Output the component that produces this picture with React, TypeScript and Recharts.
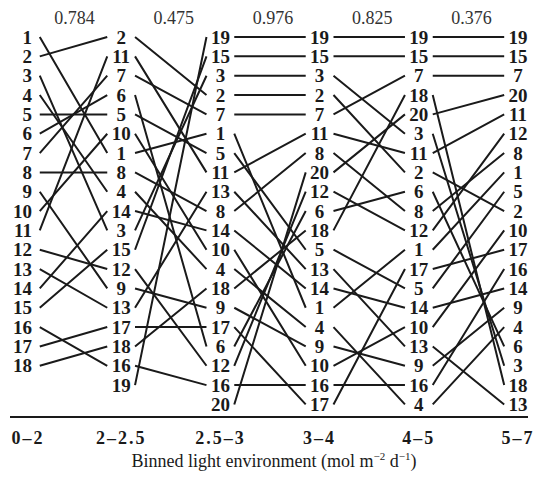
import React from 'react';
import { ComposedChart, Line, Scatter, XAxis, YAxis } from 'recharts';

const bins = ['0–2', '2–2.5', '2.5–3', '3–4', '4–5', '5–7'];
const correlations = [0.784, 0.475, 0.976, 0.825, 0.376];
const species = [1, 2, 3, 4, 5, 6, 7, 8, 9, 10, 11, 12, 13, 14, 15, 16, 17, 18, 19, 20];

// species in rank order (top to bottom) within each light bin
const rank0to2 = [1, 2, 3, 4, 5, 6, 7, 8, 9, 10, 11, 12, 13, 14, 15, 16, 17, 18];
const rank2to25 = [2, 11, 7, 6, 5, 10, 1, 8, 4, 14, 3, 15, 12, 9, 13, 17, 18, 16, 19];
const rank25to3 = [19, 15, 3, 2, 7, 1, 5, 11, 13, 8, 14, 10, 4, 18, 9, 17, 6, 12, 16, 20];
const rank3to4 = [19, 15, 3, 2, 7, 11, 8, 20, 12, 6, 18, 5, 13, 14, 1, 4, 9, 10, 16, 17];
const rank4to5 = [19, 15, 7, 18, 20, 3, 11, 2, 6, 8, 12, 1, 17, 5, 14, 10, 13, 9, 16, 4];
const rank5to7 = [19, 15, 7, 20, 11, 12, 8, 1, 5, 2, 10, 17, 16, 14, 9, 4, 6, 3, 18, 13];

const rankings = [rank0to2, rank2to25, rank25to3, rank3to4, rank4to5, rank5to7];

// space left around the labels (x units) so the lines stop short of the numbers
const GAP = 0.14;
const FIRST_GAP = 0.18;

const INK = '#1a1a1a';
const SERIF = '"Liberation Serif", "DejaVu Serif", serif';

const speciesLines = species.map((s) => {
  const pts: { x: number; y: number | null }[] = [];
  for (let i = 0; i < rankings.length - 1; i++) {
    const a = rankings[i].indexOf(s);
    const b = rankings[i + 1].indexOf(s);
    if (a < 0 || b < 0) continue;
    pts.push({ x: i + (i === 0 ? FIRST_GAP : GAP), y: a + 1 });
    pts.push({ x: i + 1 - GAP, y: b + 1 });
    pts.push({ x: i + 1, y: null });
  }
  return { s, pts };
});

const rankLabels = rankings.flatMap((col, i) =>
  col.map((s, r) => ({ x: i, y: r + 1, label: String(s), col: i }))
);

const corrLabels = correlations.map((v, i) => ({ x: i + 0.5, y: 0, label: v.toFixed(3) }));

const RankLabel = (props: any) => {
  const { cx, cy, payload } = props;
  const first = payload.col === 0;
  return (
    <text
      x={first ? cx + 10 : cx}
      y={cy + 6.5}
      textAnchor={first ? 'end' : 'middle'}
      fontFamily={SERIF}
      fontWeight="bold"
      fontSize={19}
      fill={INK}
    >
      {payload.label}
    </text>
  );
};

const CorrLabel = (props: any) => {
  const { cx, cy, payload } = props;
  return (
    <text x={cx + 3} y={cy + 6} textAnchor="middle" fontFamily={SERIF} fontSize={18} fill="#333">
      {payload.label}
    </text>
  );
};

const BinTick = (props: any) => {
  const { x, y, payload, index } = props;
  return (
    <text
      x={index === 0 ? x + 6 : x}
      y={y + 27}
      textAnchor="middle"
      fontFamily={SERIF}
      fontWeight="bold"
      fontSize={18}
      letterSpacing={2}
      fill={INK}
    >
      {bins[payload.value]}
    </text>
  );
};

const AxisTitle = (props: any) => {
  const { viewBox } = props;
  const cx = viewBox.x + viewBox.width / 2 + 5;
  return (
    <text x={cx} y={viewBox.y + 50} textAnchor="middle" fontFamily={SERIF} fontSize={18} fill={INK}>
      Binned light environment (mol m
      <tspan dy={-7} fontSize={11}>−2</tspan>
      <tspan dy={7}> d</tspan>
      <tspan dy={-7} fontSize={11}>−1</tspan>
      <tspan dy={7}>)</tspan>
    </text>
  );
};

export default function App() {
  return (
    <div style={{ position: 'absolute', left: 0, top: 0, width: 536, height: 481, background: '#fff' }}>
      <ComposedChart width={536} height={481} margin={{ top: 17.7, right: 8, bottom: 4, left: 10 }}>
        <XAxis
          type="number"
          dataKey="x"
          domain={[-0.12, 5.1]}
          ticks={[0, 1, 2, 3, 4, 5]}
          tickLine={false}
          tickSize={0}
          tickMargin={0}
          height={60}
          axisLine={{ stroke: INK, strokeWidth: 2 }}
          tick={<BinTick />}
          label={<AxisTitle />}
        />
        <YAxis type="number" dataKey="y" domain={[0, 20.65]} reversed hide />
        {speciesLines.map(({ s, pts }) => (
          <Line
            key={s}
            data={pts}
            dataKey="y"
            type="linear"
            stroke={INK}
            strokeWidth={2}
            dot={false}
            activeDot={false}
            connectNulls={false}
            isAnimationActive={false}
          />
        ))}
        <Scatter data={rankLabels} shape={<RankLabel />} isAnimationActive={false} />
        <Scatter data={corrLabels} shape={<CorrLabel />} isAnimationActive={false} />
      </ComposedChart>
    </div>
  );
}
